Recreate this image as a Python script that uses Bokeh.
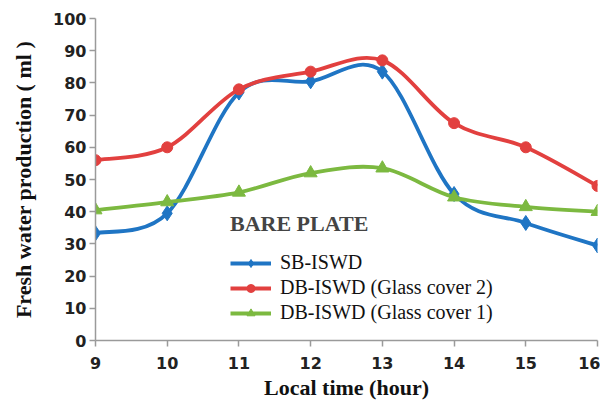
from bokeh.plotting import figure
from bokeh.models import Legend, LegendItem, FixedTicker, Range1d
from bokeh.embed import file_html
from bokeh.resources import INLINE

hours = [9, 10, 11, 12, 13, 14, 15, 16]
sb_iswd = [33.3, 39.5, 77.0, 80.5, 83.5, 45.5, 36.5, 29.5]
db_cover2 = [56.0, 60.0, 78.0, 83.5, 87.0, 67.5, 60.0, 48.0]
db_cover1 = [40.5, 43.0, 46.0, 52.0, 53.5, 44.5, 41.5, 40.0]
y_ticks = [0, 10, 20, 30, 40, 50, 60, 70, 80, 90, 100]
names = ["SB-ISWD", "DB-ISWD (Glass cover 2)", "DB-ISWD (Glass cover 1)"]
colors = ["#1f75c4", "#e2403f", "#7cb940"]
markers = ["diamond", "circle", "triangle"]
sizes = [15, 11, 13]

p = figure(width=600, height=403, output_backend="svg", toolbar_location=None,
           x_range=Range1d(9, 16), y_range=Range1d(0, 100),
           min_border_left=95, min_border_right=3, min_border_top=18, min_border_bottom=63)
p.outline_line_color = None
p.xgrid.visible = False
p.ygrid.visible = False

for ax in (p.xaxis, p.yaxis):
    ax.axis_line_color = "#9a9a9a"
    ax.axis_line_width = 1.5
    ax.major_tick_line_color = "#9a9a9a"
    ax.major_tick_line_width = 1.5
    ax.minor_tick_line_color = None
    ax.major_tick_in = 0
    ax.major_tick_out = 6
    ax.major_label_text_font = "DejaVu Sans"
    ax.major_label_text_font_size = "16px"
    ax.major_label_text_font_style = "bold"
    ax.major_label_text_color = "#222222"
    ax.axis_label_text_font = "Liberation Serif"
    ax.axis_label_text_font_style = "bold"
    ax.axis_label_text_color = "#111111"
p.xaxis.ticker = FixedTicker(ticks=hours)
p.yaxis.ticker = FixedTicker(ticks=y_ticks)
p.xaxis.axis_label = "Local time (hour)"
p.yaxis.axis_label = "Fresh water production ( ml )"
p.xaxis.axis_label_text_font_size = "22px"
p.yaxis.axis_label_text_font_size = "22px"
p.xaxis.major_label_standoff = 10
p.yaxis.major_label_standoff = 3
p.xaxis.axis_label_standoff = 3
p.yaxis.axis_label_standoff = 14


def smooth(xs, ys):
    n = len(xs)
    x0, y0, x1, y1, cx0, cy0, cx1, cy1 = [], [], [], [], [], [], [], []
    for i in range(n - 1):
        pm = max(i - 1, 0)
        pn = min(i + 2, n - 1)
        x0.append(xs[i]); y0.append(ys[i])
        x1.append(xs[i + 1]); y1.append(ys[i + 1])
        cx0.append(xs[i] + (xs[i + 1] - xs[pm]) / 6.0)
        cy0.append(ys[i] + (ys[i + 1] - ys[pm]) / 6.0)
        cx1.append(xs[i + 1] - (xs[pn] - xs[i]) / 6.0)
        cy1.append(ys[i + 1] - (ys[pn] - ys[i]) / 6.0)
    return dict(x0=x0, y0=y0, x1=x1, y1=y1, cx0=cx0, cy0=cy0, cx1=cx1, cy1=cy1)

items = []
for ys, name, c, m, s in zip([sb_iswd, db_cover2, db_cover1], names, colors, markers, sizes):
    d = smooth(hours, ys)
    p.bezier(x0=d["x0"], y0=d["y0"], x1=d["x1"], y1=d["y1"],
             cx0=d["cx0"], cy0=d["cy0"], cx1=d["cx1"], cy1=d["cy1"],
             line_color=c, line_width=3.8)
    r = p.scatter(hours, ys, marker=m, size=s, fill_color=c, line_color=c)
    lg = p.line([float("nan")], [float("nan")], line_color=c, line_width=3.8)
    items.append(LegendItem(label=name, renderers=[lg, r]))

legend = Legend(items=items, location=(135, 16), title="BARE PLATE",
                title_text_font="Liberation Serif", title_text_font_style="bold",
                title_text_font_size="22px", title_standoff=14,
                label_text_font="Liberation Serif", label_text_font_size="20px",
                label_text_color="#111111",
                background_fill_alpha=0, border_line_color=None,
                glyph_width=41, glyph_height=20, label_height=20, spacing=2,
                padding=2, margin=0, label_standoff=9)
p.add_layout(legend)

open("out.html", "w").write(file_html(p, INLINE))
